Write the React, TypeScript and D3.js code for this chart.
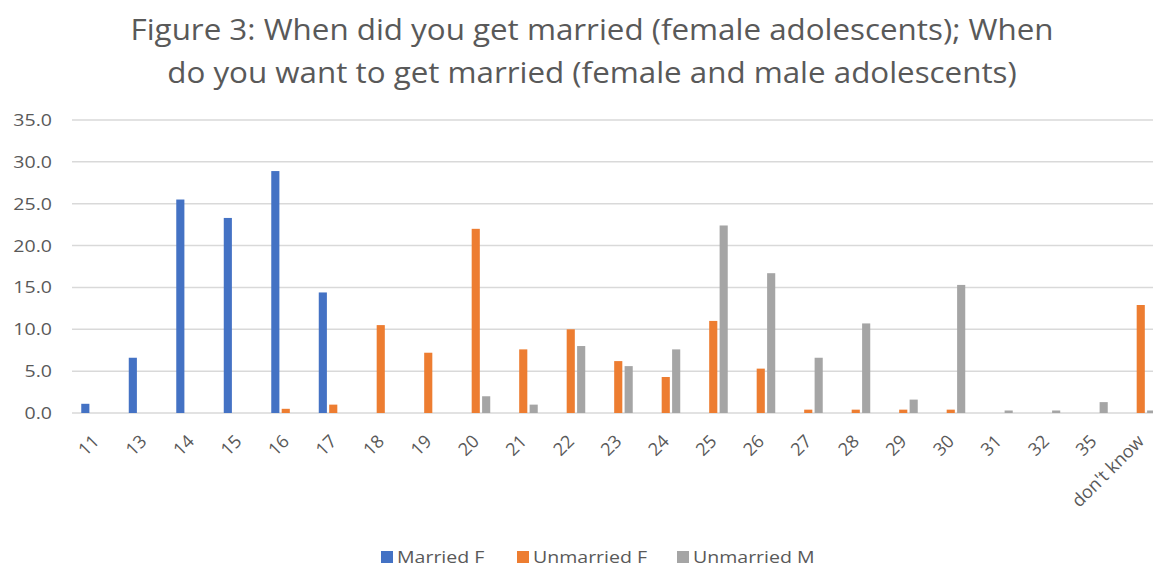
import React from "react";
import * as d3 from "d3";

const categories = ["11", "13", "14", "15", "16", "17", "18", "19", "20", "21", "22", "23", "24", "25", "26", "27", "28", "29", "30", "31", "32", "35", "don't know"];
const seriesNames = ["Married F", "Unmarried F", "Unmarried M"];
const seriesColors = ["#4472C4", "#ED7D31", "#A5A5A5"];
const marriedF = [1.1, 6.6, 25.5, 23.3, 28.9, 14.4, 0, 0, 0, 0, 0, 0, 0, 0, 0, 0, 0, 0, 0, 0, 0, 0, 0];
const unmarriedF = [0, 0, 0, 0, 0.5, 1.0, 10.5, 7.2, 22.0, 7.6, 10.0, 6.2, 4.3, 11.0, 5.3, 0.4, 0.4, 0.4, 0.4, 0, 0, 0, 12.9];
const unmarriedM = [0, 0, 0, 0, 0, 0, 0, 0, 2.0, 1.0, 8.0, 5.6, 7.6, 22.4, 16.7, 6.6, 10.7, 1.6, 15.3, 0.3, 0.3, 1.3, 0.3];
const yTicks = [0, 5, 10, 15, 20, 25, 30, 35];
const titleLines = [
  "Figure 3: When did you get married (female adolescents); When",
  "do you want to get married (female and male adolescents)",
];

const W = 1153, H = 567;
const textColor = "#595959";
const font = "'Open Sans', sans-serif";

const App = () => {
  const values = [marriedF, unmarriedF, unmarriedM];
  const left = 72, step = 47.5;

  const x0 = d3.scaleBand<string>()
    .domain(categories)
    .range([left, left + step * categories.length])
    .paddingInner(0.39)
    .paddingOuter(0.195);

  const x1 = d3.scaleBand<string>()
    .domain(seriesNames)
    .range([0, x0.bandwidth()])
    .paddingInner(0.22);

  const y = d3.scaleLinear().domain([0, 35]).range([413, 120]);

  // legend layout
  const legendItems = [
    { name: seriesNames[0], sx: 381, tx: 397 },
    { name: seriesNames[1], sx: 517, tx: 533 },
    { name: seriesNames[2], sx: 677, tx: 693 },
  ];

  return (
    <div style={{ position: "absolute", left: 0, top: 0 }}>
      <svg width={W} height={H} style={{ display: "block", background: "#fff" }} fontFamily={font}>
        {titleLines.map((t, i) => (
          <g key={t} transform={`translate(592, ${40 + i * 43}) scale(1.1,1)`}>
            <text textAnchor="middle" fontSize={28.5} fill={textColor}>{t}</text>
          </g>
        ))}

        {yTicks.map((t) => (
          <g key={t}>
            <line x1={left} x2={W} y1={y(t)} y2={y(t)} stroke="#d9d9d9" strokeWidth={1.5} />
            <g transform={`translate(52, ${y(t)}) scale(1.15,1)`}>
              <text textAnchor="end" dy="0.35em" fontSize={17} fill={textColor}>{t.toFixed(1)}</text>
            </g>
          </g>
        ))}

        {categories.map((c, i) => (
          <g key={c} transform={`translate(${x0(c)}, 0)`}>
            {values.map((s, k) => s[i] > 0 ? (
              <rect key={k}
                x={x1(seriesNames[k])}
                y={y(s[i])}
                width={x1.bandwidth()}
                height={y(0) - y(s[i])}
                fill={seriesColors[k]} />
            ) : null)}
          </g>
        ))}

        {categories.map((c) => (
          <g key={c} transform={`translate(${(x0(c) as number) + x0.bandwidth() / 2}, 438) rotate(-45)`}>
            <text textAnchor="end" dy="0.35em" fontSize={18} fill={textColor}>{c}</text>
          </g>
        ))}

        {legendItems.map((d, k) => (
          <g key={d.name}>
            <rect x={d.sx} y={551} width={12} height={12} fill={seriesColors[k]} />
            <g transform={`translate(${d.tx}, 557) scale(1.15,1)`}>
              <text dy="0.35em" fontSize={17} fill={textColor}>{d.name}</text>
            </g>
          </g>
        ))}
      </svg>
    </div>
  );
};

export default App;
